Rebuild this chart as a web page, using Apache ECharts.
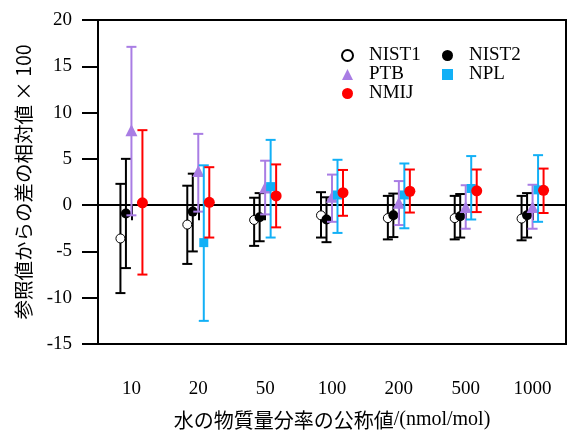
<!DOCTYPE html>
<html>
<head>
<meta charset="utf-8">
<script src="https://cdn.jsdelivr.net/npm/echarts@6/dist/echarts.min.js"></script>
<style>
	html, body { margin: 0; padding: 0; background: #fff; }
	#chart { width: 568px; height: 430px; }
</style>
</head>
<body>
<div id="chart"></div>
<script>
"use strict";

var categories = ['10', '20', '50', '100', '200', '500', '1000'];

var nist1_value = [-3.6, -2.1, -1.6, -1.1, -1.4, -1.4, -1.45];
var nist1_low = [-9.5, -6.35, -4.4, -3.5, -3.7, -3.7, -3.8];
var nist1_high = [2.3, 2.1, 0.8, 1.4, 1.0, 1.0, 1.0];

var nist2_value = [-0.9, -0.7, -1.3, -1.55, -1.1, -1.2, -1.1];
var nist2_low = [-6.8, -5.0, -3.9, -4.0, -3.45, -3.5, -3.5];
var nist2_high = [5.0, 3.4, 1.3, 0.85, 1.25, 1.2, 1.3];

var ptb_value = [8.1, 3.7, 1.9, 0.9, 0.25, -0.2, -0.2];
var ptb_low = [-1.1, -0.7, -1.0, -1.8, -2.15, -2.55, -2.55];
var ptb_high = [17.1, 7.7, 4.8, 3.3, 2.6, 2.15, 2.2];

var npl_value = [null, -4.05, 2.0, 1.1, 1.1, 1.8, 1.65];
var npl_low = [null, -12.5, -3.5, -3.0, -2.5, -1.55, -1.8];
var npl_high = [null, 4.3, 7.05, 4.9, 4.5, 5.3, 5.4];

var nmij_value = [0.25, 0.3, 1.0, 1.35, 1.5, 1.55, 1.6];
var nmij_low = [-7.5, -3.5, -2.4, -1.15, -0.8, -0.75, -0.85];
var nmij_high = [8.1, 4.1, 4.4, 3.8, 3.85, 3.85, 3.95];

var y_ticks = { min: -15, max: 20, interval: 5 };

var SERIF = 'Liberation Serif';
var CJK = 'Noto Sans CJK JP';

function errorData(low, high) {
	var result = [];
	for (var i = 0; i < low.length; i++) {
		if (low[i] === null) continue;
		result.push([i, low[i], high[i]]);
	}
	return result;
}

function pointData(values) {
	var result = [];
	for (var i = 0; i < values.length; i++) {
		if (values[i] === null) continue;
		result.push([i, values[i]]);
	}
	return result;
}

function errorSeries(name, color, dx, low, high, z) {
	return {
		name: name + ' err',
		type: 'custom',
		z: z,
		silent: true,
		encode: { x: 0, y: [1, 2] },
		data: errorData(low, high),
		renderItem: function(params, api) {
			var lo = api.coord([api.value(0), api.value(1)]);
			var hi = api.coord([api.value(0), api.value(2)]);
			var x = lo[0] + dx;
			var cap = 5;
			var style = { stroke: color, lineWidth: 2 };
			return {
				type: 'group',
				children: [
					{ type: 'line', shape: { x1: x, y1: lo[1], x2: x, y2: hi[1] }, style: style },
					{ type: 'line', shape: { x1: x - cap, y1: lo[1], x2: x + cap, y2: lo[1] }, style: style },
					{ type: 'line', shape: { x1: x - cap, y1: hi[1], x2: x + cap, y2: hi[1] }, style: style }
				]
			};
		}
	};
}

function pointSeries(name, symbol, size, itemStyle, dx, values, z) {
	itemStyle.opacity = 1;
	return {
		name: name,
		type: 'scatter',
		z: z,
		symbol: symbol,
		symbolSize: size,
		symbolOffset: [dx, 0],
		itemStyle: itemStyle,
		data: pointData(values)
	};
}

var BLACK = '#000000';
var PURPLE = '#a97de4';
var BLUE = '#12b0f6';
var RED = '#ff0000';

var series = [
	errorSeries('NIST1', BLACK, -11, nist1_low, nist1_high, 2),
	pointSeries('NIST1', 'circle', 9, { color: '#ffffff', borderColor: BLACK, borderWidth: 1 }, -11, nist1_value, 3),
	errorSeries('NIST2', BLACK, -5.5, nist2_low, nist2_high, 4),
	pointSeries('NIST2', 'circle', 10, { color: BLACK }, -5.5, nist2_value, 5),
	errorSeries('PTB', PURPLE, 0, ptb_low, ptb_high, 6),
	pointSeries('PTB', 'triangle', 12, { color: PURPLE }, 0, ptb_value, 7),
	errorSeries('NPL', BLUE, 5.5, npl_low, npl_high, 8),
	pointSeries('NPL', 'rect', 9, { color: BLUE }, 5.5, npl_value, 9),
	errorSeries('NMIJ', RED, 11, nmij_low, nmij_high, 10),
	pointSeries('NMIJ', 'circle', 11, { color: RED }, 11, nmij_value, 11)
];

// zero line
series[0].markLine = {
	silent: true,
	symbol: 'none',
	label: { show: false },
	lineStyle: { color: BLACK, width: 2, type: 'solid' },
	data: [{ yAxis: 0 }]
};

var legendText = { fontFamily: SERIF, fontSize: 19, color: '#000', padding: [0, 0, 0, 11] };

var chart = echarts.init(document.getElementById('chart'));

chart.setOption({
	animation: false,
	backgroundColor: '#ffffff',
	textStyle: { fontFamily: SERIF },
	grid: {
		left: 98,
		right: 2,
		top: 20,
		bottom: 86,
		show: true,
		borderColor: BLACK,
		borderWidth: 2,
		outerBoundsMode: 'none',
		containLabel: false
	},
	legend: [{
		orient: 'vertical',
		left: 341,
		top: 46,
		padding: 0,
		itemWidth: 11,
		itemHeight: 11,
		itemGap: 0,
		textStyle: legendText,
		data: ['NIST1', 'PTB', 'NMIJ']
	}, {
		orient: 'vertical',
		left: 442,
		top: 46,
		padding: 0,
		itemWidth: 11,
		itemHeight: 11,
		itemGap: 0,
		textStyle: legendText,
		data: ['NIST2', 'NPL']
	}],
	xAxis: {
		type: 'category',
		data: categories,
		boundaryGap: true,
		offset: 3,
		axisLine: { show: false },
		axisTick: { show: true, alignWithLabel: true, length: 15, lineStyle: { color: BLACK, width: 2 } },
		axisLabel: { fontFamily: SERIF, fontSize: 19, color: BLACK, margin: 33 },
		splitLine: { show: false },
		name: '{a|水の物質量分率の公称値}{b|/(nmol/mol)}',
		nameLocation: 'middle',
		nameGap: 63,
		nameTextStyle: {
			rich: {
				a: { fontFamily: CJK, fontSize: 20, color: BLACK },
				b: { fontFamily: SERIF, fontSize: 20, color: BLACK }
			}
		}
	},
	yAxis: {
		type: 'value',
		min: y_ticks.min,
		max: y_ticks.max,
		interval: y_ticks.interval,
		axisLine: { show: true, lineStyle: { color: BLACK, width: 2 } },
		axisTick: { show: true, length: 16, lineStyle: { color: BLACK, width: 2 } },
		axisLabel: { fontFamily: SERIF, fontSize: 19, color: BLACK, margin: 26 },
		splitLine: { show: false },
		name: '参照値からの差の相対値 × 100',
		nameLocation: 'middle',
		nameRotate: 90,
		nameGap: 65,
		nameTextStyle: { fontFamily: CJK, fontSize: 19.5, color: BLACK }
	},
	series: series
});
</script>
</body>
</html>
